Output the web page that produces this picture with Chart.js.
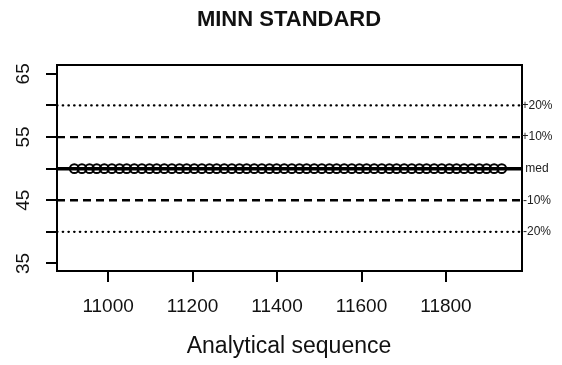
<!DOCTYPE html>
<html lang="en">
<head>
<meta charset="UTF-8">
<title>MINN STANDARD</title>
<script src="https://cdn.jsdelivr.net/npm/chart.js"></script>
<style>
    html, body { margin: 0; padding: 0; background: #ffffff; }
    #wrap { width: 562px; height: 365px; }
</style>
</head>
<body>
<div id="wrap"><canvas id="chart" width="562" height="365"></canvas></div>
<script>
// data
const seqValues = [10920, 10938, 10956, 10973, 10991, 11009, 11027, 11044, 11062, 11080,
    11098, 11115, 11133, 11151, 11169, 11186, 11204, 11222, 11240, 11257,
    11275, 11293, 11311, 11328, 11346, 11364, 11382, 11399, 11417, 11435,
    11453, 11470, 11488, 11506, 11524, 11541, 11559, 11577, 11595, 11612,
    11630, 11648, 11666, 11683, 11701, 11719, 11737, 11754, 11772, 11790,
    11808, 11825, 11843, 11861, 11879, 11896, 11914, 11932];
const measured = [50, 50, 50, 50, 50, 50, 50, 50, 50, 50,
    50, 50, 50, 50, 50, 50, 50, 50, 50, 50,
    50, 50, 50, 50, 50, 50, 50, 50, 50, 50,
    50, 50, 50, 50, 50, 50, 50, 50, 50, 50,
    50, 50, 50, 50, 50, 50, 50, 50, 50, 50,
    50, 50, 50, 50, 50, 50, 50, 50];
const refValues = [60, 55, 50, 45, 40];
const refLabels = ['+20%', '+10%', 'med', '-10%', '-20%'];
const xTicks = [11000, 11200, 11400, 11600, 11800];
const yTicks = [35, 40, 45, 50, 55, 60, 65];
const yTickLabels = ['35', '', '45', '', '55', '', '65'];

const xMin = 10879, xMax = 11980;
const yMin = 33.8, yMax = 66.4;
const FONT = 'Arial, "Liberation Sans", sans-serif';
const TICK = 11;

// line style per reference line
function refStyle(label) {
    if (label === 'med') return { width: 3.5, dash: [], cap: 'butt' };
    if (label.indexOf('10') >= 0) return { width: 2.3, dash: [8, 5], cap: 'butt' };
    return { width: 2.2, dash: [0.5, 5.2], cap: 'round' };
}

const refSets = refValues.map((v, i) => {
    const st = refStyle(refLabels[i]);
    return {
        type: 'line',
        data: [{ x: xMin, y: v }, { x: xMax, y: v }],
        borderColor: '#000',
        borderWidth: st.width,
        borderDash: st.dash,
        borderCapStyle: st.cap,
        pointRadius: 0,
        order: 2
    };
});

const pointSet = {
    type: 'scatter',
    data: seqValues.map((x, i) => ({ x: x, y: measured[i] })),
    pointRadius: 4.4,
    pointBorderWidth: 2,
    pointBorderColor: '#000',
    pointBackgroundColor: 'rgba(0,0,0,0)',
    showLine: false,
    order: 1
};

const extras = {
    id: 'extras',
    afterDatasetsDraw(chart) {
        const ctx = chart.ctx;
        const a = chart.chartArea;
        const xs = chart.scales.x;
        const ys = chart.scales.y;
        ctx.save();
        ctx.strokeStyle = '#000';
        ctx.lineWidth = 2;
        ctx.strokeRect(a.left, a.top, a.right - a.left, a.bottom - a.top);

        // tick marks, outside the box
        ctx.beginPath();
        xTicks.forEach(v => {
            const px = Math.round(xs.getPixelForValue(v));
            ctx.moveTo(px, a.bottom);
            ctx.lineTo(px, a.bottom + TICK);
        });
        yTicks.forEach(v => {
            const py = Math.round(ys.getPixelForValue(v));
            ctx.moveTo(a.left, py);
            ctx.lineTo(a.left - TICK, py);
        });
        ctx.stroke();

        ctx.fillStyle = '#111';
        // title
        ctx.font = 'bold 22px ' + FONT;
        ctx.textAlign = 'center';
        ctx.textBaseline = 'middle';
        ctx.fillText('MINN STANDARD', 289, 20);
        // x axis title
        ctx.font = '23px ' + FONT;
        ctx.fillText('Analytical sequence', 289, 347);

        // rotated y tick labels
        ctx.font = '19px ' + FONT;
        yTicks.forEach((v, i) => {
            if (!yTickLabels[i]) return;
            ctx.save();
            ctx.translate(24, ys.getPixelForValue(v));
            ctx.rotate(-Math.PI / 2);
            ctx.fillText(yTickLabels[i], 0, 0);
            ctx.restore();
        });

        // right side reference labels
        ctx.font = '12px ' + FONT;
        ctx.fillStyle = '#222';
        refValues.forEach((v, i) => {
            ctx.fillText(refLabels[i], 537, ys.getPixelForValue(v));
        });
        ctx.restore();
    }
};

new Chart(document.getElementById('chart'), {
    data: { datasets: [pointSet].concat(refSets) },
    options: {
        responsive: false,
        animation: false,
        layout: { padding: { top: 65, right: 40, bottom: 0, left: 0 } },
        plugins: { legend: { display: false }, tooltip: { enabled: false } },
        scales: {
            x: {
                type: 'linear',
                min: xMin,
                max: xMax,
                afterBuildTicks: s => { s.ticks = xTicks.map(v => ({ value: v })); },
                afterFit: s => { s.height = 94; },
                grid: { display: false },
                border: { display: false },
                ticks: {
                    color: '#111',
                    font: { family: FONT, size: 19 },
                    padding: 16,
                    maxRotation: 0,
                    callback: v => String(v)
                }
            },
            y: {
                type: 'linear',
                min: yMin,
                max: yMax,
                afterBuildTicks: s => { s.ticks = yTicks.map(v => ({ value: v })); },
                afterFit: s => { s.width = 57; },
                grid: { display: false },
                border: { display: false },
                ticks: { display: false }
            }
        }
    },
    plugins: [extras]
});
</script>
</body>
</html>
